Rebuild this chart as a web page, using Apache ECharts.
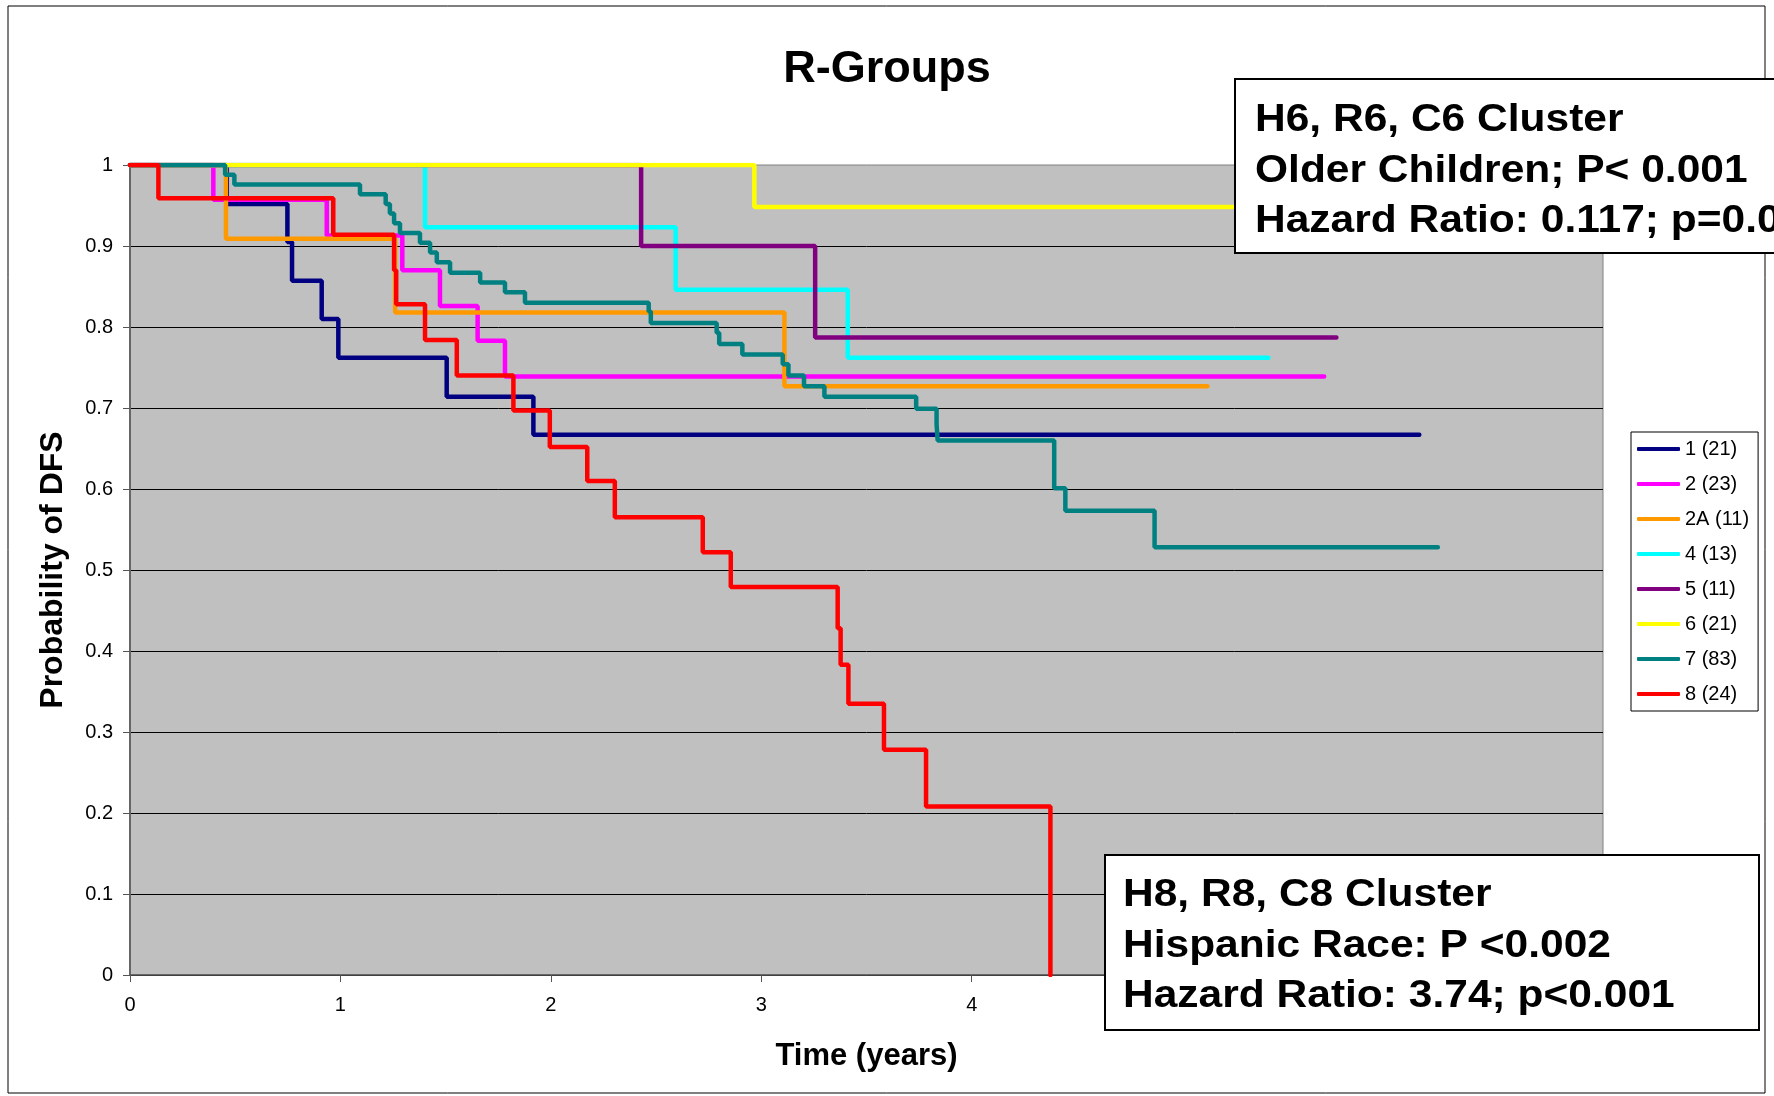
<!DOCTYPE html>
<html>
<head>
<meta charset="utf-8">
<title>R-Groups</title>
<script src="https://cdn.jsdelivr.net/npm/echarts@6/dist/echarts.min.js"></script>
<style>
  html, body { margin: 0; padding: 0; background: #fff; }
  #main { width: 1774px; height: 1096px; }
</style>
</head>
<body>
<div id="main"></div>
<script>
// group names with patient counts, same order as the legend
var groupNames = ['1 (21)', '2 (23)', '2A (11)', '4 (13)', '5 (11)', '6 (21)', '7 (83)', '8 (24)'];
var groupColors = ['#000080', '#FF00FF', '#FF9900', '#00FFFF', '#800080', '#FFFF00', '#008080', '#FF0000'];

// Kaplan-Meier steps: event time (years) and DFS probability after it
var g1Time = [0, 0.46, 0.748, 0.77, 0.911, 0.99, 1.505, 1.917, 6.127];
var g1Surv = [1, 0.952, 0.905, 0.857, 0.810, 0.762, 0.714, 0.667, 0.667];

var g2Time = [0, 0.396, 0.935, 1.294, 1.473, 1.652, 1.782, 5.675];
var g2Surv = [1, 0.957, 0.913, 0.870, 0.826, 0.783, 0.739, 0.739];

var g2aTime = [0, 0.456, 1.26, 3.11, 5.12];
var g2aSurv = [1, 0.909, 0.818, 0.727, 0.727];

var g4Time = [0, 1.402, 2.593, 3.411, 5.41];
var g4Surv = [1, 0.923, 0.846, 0.762, 0.762];

var g5Time = [0, 2.429, 3.256, 5.733];
var g5Surv = [1, 0.9, 0.787, 0.787];

var g6Time = [0, 2.967, 6.0];
var g6Surv = [1, 0.948, 0.948];

var g7Time = [0, 0.452, 0.496, 1.093, 1.215, 1.235, 1.255, 1.283, 1.378, 1.426, 1.458, 1.521, 1.664, 1.782, 1.877,
              2.465, 2.475, 2.788, 2.80, 2.91, 3.102, 3.129, 3.203, 3.30, 3.736, 3.833, 3.838, 4.392, 4.445, 4.869, 6.215];
var g7Surv = [1, 0.988, 0.976, 0.964, 0.952, 0.940, 0.928, 0.916, 0.904, 0.892, 0.880, 0.867, 0.855, 0.843, 0.830,
              0.819, 0.805, 0.793, 0.779, 0.766, 0.754, 0.740, 0.727, 0.714, 0.699, 0.680, 0.660, 0.601, 0.573, 0.528, 0.528];

var g8Time = [0, 0.135, 0.966, 1.255, 1.265, 1.402, 1.553, 1.822, 1.995, 2.173, 2.304, 2.722, 2.855, 3.363, 3.377, 3.414, 3.583, 3.783, 4.374];
var g8Surv = [1, 0.959, 0.914, 0.870, 0.828, 0.784, 0.740, 0.697, 0.652, 0.610, 0.565, 0.522, 0.479, 0.428, 0.383, 0.335, 0.278, 0.208, 0];

var allTimes = [g1Time, g2Time, g2aTime, g4Time, g5Time, g6Time, g7Time, g8Time];
var allSurv = [g1Surv, g2Surv, g2aSurv, g4Surv, g5Surv, g6Surv, g7Surv, g8Surv];

// annotation boxes
var note6 = ['H6, R6, C6 Cluster', 'Older Children; P< 0.001', 'Hazard Ratio: 0.117; p=0.0'];
var note8 = ['H8, R8, C8 Cluster', 'Hispanic Race: P <0.002', 'Hazard Ratio: 3.74; p<0.001'];

var FONT = '"Liberation Sans", Arial, Helvetica, sans-serif';

var myChart = echarts.init(document.getElementById('main'), null, { renderer: 'canvas' });

var series = groupNames.map(function (name, i) {
    return {
        name: name,
        type: 'line',
        step: 'end',
        symbol: 'none',
        color: groupColors[i],
        lineStyle: { width: 4.5, color: groupColors[i], cap: 'round' },
        emphasis: { disabled: true },
        data: allTimes[i].map(function (t, k) { return [t, allSurv[i][k]]; })
    };
});

// white box with bold text, drawn above the plot
function noteBox(x, y, w, h, lines, textX, textY) {
    return {
        type: 'group',
        z: 100,
        children: [
            {
                type: 'rect',
                z: 100,
                shape: { x: x, y: y, width: w, height: h },
                style: { fill: '#fff', stroke: '#000', lineWidth: 2 }
            },
            {
                type: 'text',
                z: 101,
                x: textX,
                y: textY,
                scaleX: 1.09,
                style: {
                    text: lines.join('\n'),
                    fill: '#000',
                    font: 'bold 39px ' + FONT,
                    lineHeight: 50.5,
                    verticalAlign: 'top'
                }
            }
        ]
    };
}

var option = {
    animation: false,
    backgroundColor: '#fff',
    title: {
        text: 'R-Groups',
        left: 'center',
        top: 45,
        padding: 0,
        textStyle: { fontFamily: FONT, fontSize: 45, fontWeight: 'bold', color: '#000', lineHeight: 50 }
    },
    legend: {
        orient: 'vertical',
        left: 1631,
        top: 432,
        data: groupNames,
        icon: 'roundRect',
        itemWidth: 43,
        itemHeight: 4,
        itemGap: 15,
        padding: [7, 9, 7, 6],
        borderColor: '#000',
        borderWidth: 1,
        backgroundColor: '#fff',
        textStyle: { fontFamily: FONT, fontSize: 20, color: '#000', lineHeight: 20 }
    },
    grid: {
        left: 130,
        right: 171,
        top: 165,
        bottom: 121,
        show: true,
        backgroundColor: '#C0C0C0',
        borderColor: '#808080',
        borderWidth: 1,
        outerBoundsMode: 'none'
    },
    xAxis: {
        type: 'value',
        min: 0,
        max: 7,
        interval: 1,
        name: 'Time (years)',
        nameLocation: 'middle',
        nameGap: 66,
        nameMoveOverlap: false,
        nameTextStyle: { fontFamily: FONT, fontSize: 31, fontWeight: 'bold', color: '#000', lineHeight: 31 },
        axisLine: { show: true, onZero: false, lineStyle: { color: '#555', width: 1.5 } },
        axisTick: { show: true, length: 7, lineStyle: { color: '#555', width: 1 } },
        axisLabel: { fontFamily: FONT, fontSize: 20, color: '#000', margin: 20, lineHeight: 20 },
        splitLine: { show: false }
    },
    yAxis: {
        type: 'value',
        min: 0,
        max: 1,
        interval: 0.1,
        name: 'Probability of DFS',
        nameLocation: 'middle',
        nameGap: 61,
        nameMoveOverlap: false,
        nameTextStyle: { fontFamily: FONT, fontSize: 32, fontWeight: 'bold', color: '#000', lineHeight: 32 },
        axisLine: { show: true, lineStyle: { color: '#666', width: 2 } },
        axisTick: { show: true, length: 7, lineStyle: { color: '#555', width: 1 } },
        axisLabel: { fontFamily: FONT, fontSize: 20, color: '#000', margin: 17 },
        splitLine: { show: true, showMaxLine: false, lineStyle: { color: '#000', width: 1 } }
    },
    graphic: [
        {
            type: 'rect',
            z: 99,
            shape: { x: 8, y: 6, width: 1757, height: 1087 },
            style: { fill: null, stroke: '#000', lineWidth: 1 }
        },
        noteBox(1235, 79, 620, 174, note6, 1255, 95),
        noteBox(1105, 855, 654, 175, note8, 1123, 870)
    ],
    series: series
};

myChart.setOption(option);
</script>
</body>
</html>
